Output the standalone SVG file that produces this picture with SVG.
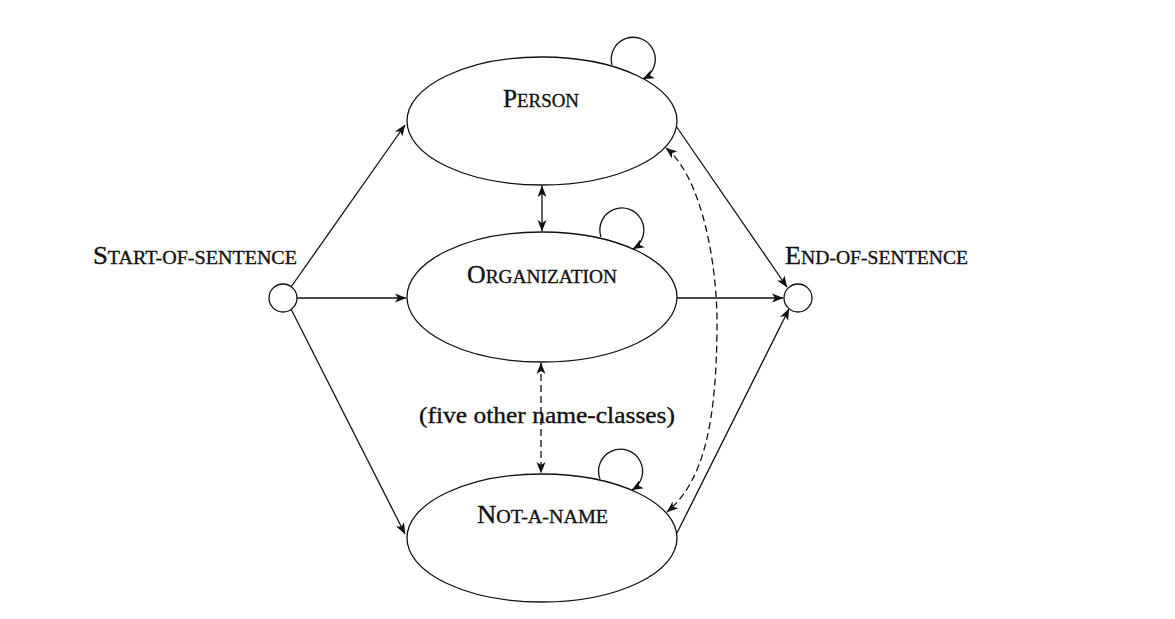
<svg xmlns="http://www.w3.org/2000/svg" width="1175" height="619" viewBox="0 0 1175 619">
<style>
.node{fill:#fff;stroke:#111;stroke-width:1.3}
.lbl{font-family:"Liberation Serif","Times New Roman",serif;fill:#111;stroke:#111;stroke-width:0.35;text-anchor:start}
.big{font-size:26px}
.sm{font-size:19.5px}
.edge{fill:none;stroke:#111;stroke-width:1.3}
.dash{stroke-dasharray:7 4}
</style>
<defs>
<marker id="ah" viewBox="0 0 12 10" refX="11" refY="5" markerWidth="12" markerHeight="10" markerUnits="userSpaceOnUse" orient="auto-start-reverse">
<path d="M0,0.5 L11.5,5 L0,9.5 L3,5 Z" fill="#111"/>
</marker>
</defs>
<rect width="1175" height="619" fill="#fff"/>
<g id="connectors">
<line class="edge" x1="291" y1="287" x2="405" y2="125" marker-end="url(#ah)"/>
<line class="edge" x1="297" y1="298" x2="406" y2="298" marker-end="url(#ah)"/>
<line class="edge" x1="291" y1="309" x2="405" y2="534" marker-end="url(#ah)"/>
<line class="edge" x1="676" y1="126" x2="787" y2="287" marker-end="url(#ah)"/>
<line class="edge" x1="677" y1="298" x2="783" y2="298" marker-end="url(#ah)"/>
<line class="edge" x1="677" y1="533" x2="789" y2="309" marker-end="url(#ah)"/>
<line class="edge" x1="542" y1="186" x2="542" y2="231" marker-start="url(#ah)" marker-end="url(#ah)"/>
<line class="edge dash" x1="541" y1="363" x2="541" y2="473" marker-start="url(#ah)" marker-end="url(#ah)"/>
<path class="edge dash" d="M666,148 C700,175 718,260 717,330 C716,420 705,480 667,512" marker-start="url(#ah)" marker-end="url(#ah)"/>
<path class="edge" d="M612,65 A22,22 0 1 1 643,79" marker-end="url(#ah)"/>
<path class="edge" d="M601,237 A22,22 0 1 1 633,249" marker-end="url(#ah)"/>
<path class="edge" d="M600,479 A22,22 0 1 1 632,490" marker-end="url(#ah)"/>
</g>
<g id="start">
<circle class="node" cx="283" cy="298" r="14"/>
<text class="lbl" x="93" y="264" textLength="204" lengthAdjust="spacingAndGlyphs"><tspan class="big">S</tspan><tspan class="sm">TART-OF-SENTENCE</tspan></text>
</g>
<g id="end">
<circle class="node" cx="798" cy="298" r="14"/>
<text class="lbl" x="785" y="264" textLength="183" lengthAdjust="spacingAndGlyphs"><tspan class="big">E</tspan><tspan class="sm">ND-OF-SENTENCE</tspan></text>
</g>
<g id="person">
<ellipse class="node" cx="542" cy="121" rx="135" ry="64"/>
<text class="lbl" x="503" y="107" textLength="76" lengthAdjust="spacingAndGlyphs"><tspan class="big">P</tspan><tspan class="sm">ERSON</tspan></text>
</g>
<g id="organization">
<ellipse class="node" cx="542" cy="297" rx="135" ry="65"/>
<text class="lbl" x="467" y="283" textLength="150" lengthAdjust="spacingAndGlyphs"><tspan class="big">O</tspan><tspan class="sm">RGANIZATION</tspan></text>
</g>
<g id="notaname">
<ellipse class="node" cx="542" cy="538" rx="135" ry="64"/>
<text class="lbl" x="477" y="523" textLength="131" lengthAdjust="spacingAndGlyphs"><tspan class="big">N</tspan><tspan class="sm">OT-A-NAME</tspan></text>
</g>
<g id="others">
<text class="lbl" x="419" y="423" font-size="23" textLength="256" lengthAdjust="spacingAndGlyphs">(five other name-classes)</text>
</g>
</svg>
